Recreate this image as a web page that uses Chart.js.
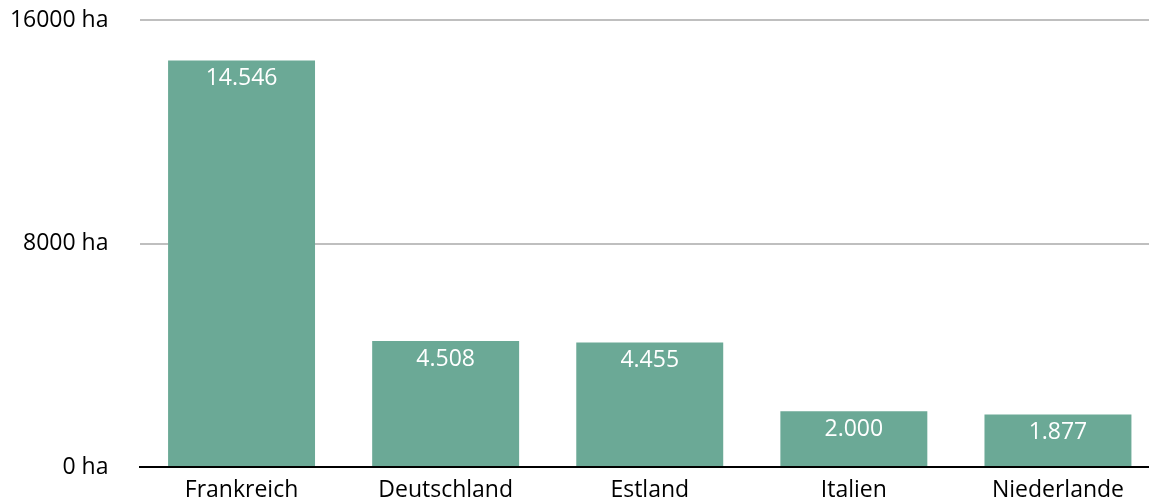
<!DOCTYPE html>
<html>
<head>
<meta charset="utf-8">
<script src="https://cdn.jsdelivr.net/npm/chart.js@4"></script>
<style>
  html, body { margin: 0; padding: 0; background: #fff; overflow: hidden; }
  #wrap { width: 1160px; height: 503px; }
</style>
</head>
<body>
<div id="wrap"><canvas id="flaecheChart"></canvas></div>
<script>
// Fläche je Land in Hektar
const laender = ["Frankreich", "Deutschland", "Estland", "Italien", "Niederlande"];
const flaeche = [14546, 4508, 4455, 2000, 1877];
const yTicks = [0, 8000, 16000];

const FONT = "'Open Sans', sans-serif";
const SIZE = 23;

// Tausenderpunkt wie im Deutschen
const fmt = (v) => String(v).replace(/\B(?=(\d{3})+(?!\d))/g, ".");

// Werte weiß oben in die Balken schreiben
const valueLabels = {
  id: "valueLabels",
  afterDatasetsDraw(chart) {
    const ctx = chart.ctx;
    const meta = chart.getDatasetMeta(0);
    ctx.save();
    ctx.fillStyle = "#ffffff";
    ctx.font = SIZE + "px " + FONT;
    ctx.textAlign = "center";
    ctx.textBaseline = "middle";
    meta.data.forEach((bar, i) => {
      ctx.fillText(fmt(flaeche[i]), bar.x, bar.y + 18);
    });
    ctx.restore();
  },
};

new Chart(document.getElementById("flaecheChart"), {
  type: "bar",
  data: {
    labels: laender,
    datasets: [
      {
        data: flaeche,
        backgroundColor: "#6BA996",
        borderWidth: 0,
        categoryPercentage: 1,
        barPercentage: 0.72,
      },
    ],
  },
  options: {
    responsive: true,
    maintainAspectRatio: false,
    animation: false,
    layout: { padding: { top: 20, right: 0, bottom: 0, left: 0 } },
    plugins: {
      legend: { display: false },
      tooltip: { enabled: false },
    },
    scales: {
      x: {
        grid: { display: false, drawTicks: false },
        border: { display: true, color: "#000000", width: 2 },
        ticks: {
          color: "#000000",
          font: { family: FONT, size: SIZE },
          padding: 10,
          maxRotation: 0,
        },
        afterFit: (scale) => { scale.height = 36; },
      },
      y: {
        min: 0,
        max: 16000,
        afterBuildTicks: (scale) => {
          scale.ticks = yTicks.map((v) => ({ value: v }));
        },
        // unsichtbare Tick-Striche schaffen den Abstand zwischen Beschriftung und Gitter
        grid: { color: "#BFBFBF", lineWidth: 2, drawTicks: true, tickLength: 31, tickColor: "rgba(0,0,0,0)" },
        border: { display: false },
        ticks: {
          color: "#000000",
          font: { family: FONT, size: SIZE },
          padding: 0,
          callback: (v) => v + " ha",
        },
        afterFit: (scale) => { scale.width = 139.5; },
      },
    },
  },
  plugins: [valueLabels],
});
</script>
</body>
</html>
